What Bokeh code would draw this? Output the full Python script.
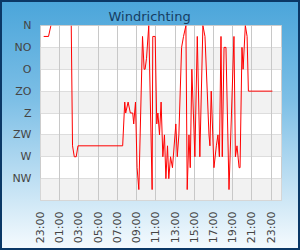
import math
from bokeh.plotting import figure
from bokeh.models import Range1d, FixedTicker
from bokeh.embed import file_html
from bokeh.resources import INLINE

# ---- data ----
times = ["23:20", "23:50", "00:05", "01:00",
         "02:12", "02:20", "02:31", "02:43", "02:54", "07:33", "07:46", "07:52",
         "08:07", "08:21", "08:36", "08:42", "08:53", "09:03", "09:14", "09:37",
         "09:47", "09:53", "10:02", "10:16", "10:37", "10:41", "10:56", "11:06",
         "11:13", "11:23", "11:33", "11:44", "11:54", "12:03", "12:13", "12:21",
         "12:32", "12:44", "13:05", "13:14", "13:24", "13:41", "13:53", "14:08",
         "14:16", "14:27", "14:35", "14:45", "15:04", "15:19", "15:35", "15:54",
         "16:07", "16:21", "16:32", "16:38", "16:46", "17:03", "17:18", "17:28",
         "17:37", "17:47", "17:55", "18:06", "18:18", "18:37", "19:08", "19:17",
         "19:27", "19:40", "19:46", "19:58", "20:05", "20:19", "20:30", "20:38",
         "23:08"]
direction = [22.5, 22.5, 0, float("nan"),
             0, 247.5, 270, 270, 247.5, 247.5, 157.5, 180,
             157.5, 180, 180, 202.5, 157.5, 292.5, 337.5, 22.5,
             90, 90, 67.5, 0, 337.5, 22.5, 22.5, 202.5,
             180, 225, 157.5, 270, 225, 315, 247.5, 315,
             270, 292.5, 202.5, 270, 225, 45, 22.5, 0,
             337.5, 225, 292.5, 90, 270, 22.5, 270, 0,
             22.5, 135, 225, 247.5, 135, 292.5, 247.5, 225,
             270, 22.5, 270, 45, 45, 337.5, 22.5, 270,
             247.5, 292.5, 292.5, 45, 90, 0, 22.5, 135,
             135]

dir_ticks = [0, 45, 90, 135, 180, 225, 270, 315]
dir_labels = ["N", "NO", "O", "ZO", "Z", "ZW", "W", "NW"]

hour_ticks = [23, 25, 27, 29, 31, 33, 35, 37, 39, 41, 43, 45, 47]
hour_labels = ["23:00", "01:00", "03:00", "05:00", "07:00", "09:00", "11:00",
               "13:00", "15:00", "17:00", "19:00", "21:00", "23:00"]

# unwrap clock times into continuous hours
xs = []
offset = 0.0
prev = None
for t in times:
    hh, mm = t.split(":")
    h = int(hh) + int(mm) / 60.0
    if prev is not None and h < prev:
        offset += 24.0
    prev = h
    xs.append(h + offset)

p = figure(width=300, height=250, output_backend="svg", toolbar_location=None,
           x_range=Range1d(23, 48.08), y_range=Range1d(360, 0),
           min_border_left=40, min_border_right=19, min_border_top=25,
           min_border_bottom=50, title="Windrichting")

p.styles = {"background": "linear-gradient(to bottom, #4aa5da 0%, #7dbfe6 40%, #c4e2f4 75%, #f6fbfe 100%)",
            "outline": "2px solid #0b3866", "outline-offset": "-2px"}
p.border_fill_alpha = 0
p.background_fill_color = "white"
p.outline_line_color = "#cccccc"

p.title.text_font = "DejaVu Sans"
p.title.text_font_size = "13px"
p.title.text_font_style = "normal"
p.title.text_color = "#163d63"
p.title.align = "left"
p.title.offset = 68
p.title.standoff = 4

for ax in (p.xaxis[0], p.yaxis[0]):
    ax.axis_line_color = None
    ax.major_tick_line_color = None
    ax.minor_tick_line_color = None
    ax.major_tick_out = 0
    ax.major_tick_in = 0
    ax.major_label_text_font = "DejaVu Sans"
    ax.major_label_text_font_size = "11px"
    ax.major_label_text_color = "#454545"

p.yaxis.ticker = FixedTicker(ticks=dir_ticks)
p.yaxis.major_label_overrides = dict(zip(dir_ticks, dir_labels))
p.yaxis.major_label_standoff = 9

p.xaxis.ticker = FixedTicker(ticks=hour_ticks)
p.xaxis.major_label_overrides = dict(zip(hour_ticks, hour_labels))
p.xaxis.major_label_orientation = math.pi / 2
p.xaxis.major_label_standoff = 11

p.xgrid.ticker = FixedTicker(ticks=hour_ticks)
p.xgrid.grid_line_color = "#c8c8c8"
p.ygrid.ticker = FixedTicker(ticks=dir_ticks)
p.ygrid.grid_line_color = "#dddddd"
p.ygrid.band_fill_color = "#f2f2f2"
p.ygrid.band_fill_alpha = 1
p.ygrid.level = "image"

p.line(xs, direction, line_color="#ff0000", line_width=1)

open("out.html", "w").write(file_html(p, INLINE))
